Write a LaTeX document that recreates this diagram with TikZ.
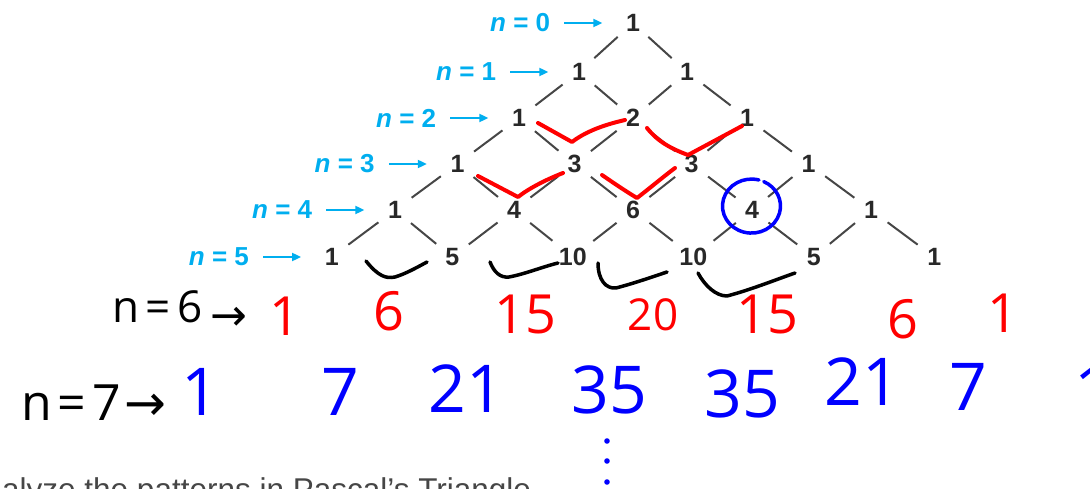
\documentclass[tikz,border=0pt]{standalone}
\usepackage{fontspec}
\setmainfont{Liberation Sans}
\newfontfamily\handfont{Open Sans}
\newfontfamily\arrowfont{DejaVu Sans}
\usepackage{tikz}
\usetikzlibrary{arrows.meta, positioning}
\definecolor{lblcyan}{RGB}{0,174,239}
\definecolor{numgray}{RGB}{40,40,40}
\definecolor{linkgray}{RGB}{70,70,70}
\definecolor{inkred}{RGB}{255,0,0}
\definecolor{inkblue}{RGB}{0,0,255}
\definecolor{captiongray}{RGB}{70,70,70}
\tikzset{
    numnode/.style={circle, inner sep=1pt, text=numgray, font=\fontsize{25}{29}\selectfont\bfseries},
    lblnode/.style={inner sep=0pt, text=lblcyan, font=\fontsize{26}{30}\selectfont\bfseries},
    lblarrow/.style={draw=lblcyan, line width=2pt, -{Triangle[length=9pt, width=8pt]}, shorten <=14pt, shorten >=18pt},
    linkline/.style={draw=linkgray, line width=2pt, shorten <=8pt, shorten >=8pt},
    handlbl/.style={anchor=base, inner sep=0pt, text=black, font=\handfont\fontsize{44}{48}\selectfont},
    redrow/.style={anchor=base, inner sep=0pt, text=inkred, font=\handfont\fontsize{54}{60}\selectfont},
    bluerow/.style={anchor=base, inner sep=0pt, text=inkblue, font=\handfont\fontsize{66}{72}\selectfont},
    redink/.style={draw=inkred, line width=4pt, line cap=round, line join=round},
    blackink/.style={draw=black, line width=3.5pt, line cap=round, line join=round},
    blueink/.style={draw=inkblue, line width=3.5pt, line cap=round},
}
\begin{document}
\begin{tikzpicture}[x=1pt, y=-1pt]
    \useasboundingbox (0,0) rectangle (1090,489);
    \clip (0,0) rectangle (1090,489);
    % printed triangle, rows 0 to 5
    \foreach \r/\s/\y/\vals in {0/0/23/{1}, 1/108/72/{1,1}, 2/114/118/{1,2,1},
            3/117/164/{1,3,3,1}, 4/119/210/{1,4,6,4,1}, 5/120.5/257/{1,5,10,10,5,1}}{
        \foreach \v [count=\k from 0] in \vals
            \node[numnode] (p\r-\k) at ({633+(\k-\r/2)*\s},\y) {\v};
    }
    \foreach \r in {0,...,4}{
        \pgfmathtruncatemacro\rn{\r+1}
        \foreach \k in {0,...,\r}{
            \pgfmathtruncatemacro\kn{\k+1}
            \draw[linkline] (p\r-\k) -- (p\rn-\k);
            \draw[linkline] (p\r-\k) -- (p\rn-\kn);
        }
    }
    \foreach \r in {0,...,5}{
        \node[lblnode, left=70pt of p\r-0] (n\r) {\textit{n} = \r};
        \draw[lblarrow] (n\r) -- (p\r-0);
    }
    % red ticks
    \draw[redink] (538,123) -- (572,142) .. controls (585,132) and (603,125) .. (625,120);
    \draw[redink] (647,128) .. controls (658,142) and (672,149) .. (688,155) -- (742,126);
    \draw[redink] (478,176) -- (518,197) .. controls (528,189) and (545,180) .. (563,173);
    \draw[redink] (602,175) .. controls (615,184) and (627,192) .. (637,198) .. controls (650,188) and (663,177) .. (675,168);
    % black hooks under row 5
    \draw[blackink] (366,261) .. controls (378,276) and (386,279) .. (395,277) .. controls (405,274) and (416,268) .. (427,262);
    \draw[blackink] (490,262) .. controls (494,272) and (500,278) .. (509,277) .. controls (525,274) and (542,267) .. (558,263);
    \draw[blackink] (598,263) .. controls (598,280) and (606,289) .. (616,288) .. controls (635,283) and (652,277) .. (667,272);
    \draw[blackink] (698,273) .. controls (705,286) and (716,296) .. (727,296) .. controls (750,290) and (775,280) .. (795,273);
    % blue ring round the 4
    \draw[blueink] (759,180) arc[start angle=-75, end angle=-425, x radius=29, y radius=27];
    % handwritten rows 6 and 7
    \node[handlbl] (h6) at (180,322) {n\hspace{6pt}=\hspace{6pt}6\hspace{8pt}\raisebox{-8pt}{\arrowfont →}};
    \foreach \x/\y/\v [count=\k from 0] in {285/335/1, 389/330/6, 525/333/15, 767/333/15, 903/338/6, 1003/332/1}
        \node[redrow] (r6-\k) at (\x,\y) {\v};
    \node[redrow, font=\handfont\fontsize{44}{48}\selectfont] (r6-mid) at (653,330) {20};
    \node[handlbl, font=\handfont\fontsize{50}{54}\selectfont] (h7) at (94,420) {n\hspace{6pt}=\hspace{6pt}7\hspace{4pt}{\arrowfont →}};
    \foreach \x/\y/\v [count=\k from 0] in {200/415/1, 340/415/7, 466/412/21, 609/413/35, 742/417/35, 862/405/21, 968/410/7, 1093/413/1}
        \node[bluerow] (b7-\k) at (\x,\y) {\v};
    % dots below
    \foreach \y in {441,461,482}
        \fill[inkblue] (607,\y) circle[radius=2.8];
    \node[anchor=base west, inner sep=0pt, text=captiongray, font=\fontsize{31.5}{36}\selectfont] (caption) at (2,500) {alyze the patterns in Pascal’s Triangle};
\end{tikzpicture}
\end{document}
